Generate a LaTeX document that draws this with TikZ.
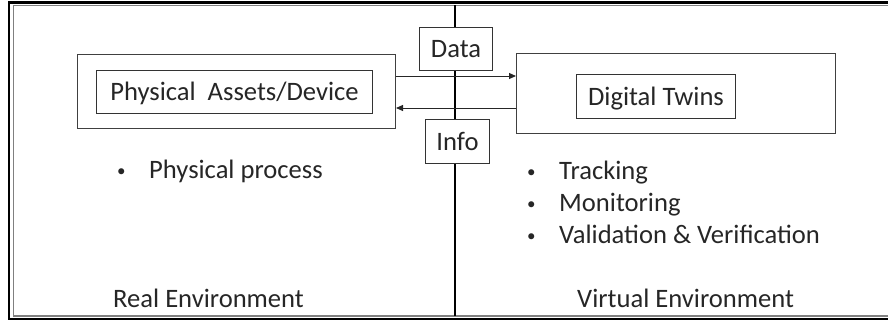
\documentclass[tikz,border=0pt]{standalone}
\usepackage{fontspec}
\setmainfont{Carlito}
\usetikzlibrary{arrows.meta}
\newcommand{\smbullet}{\makebox[34pt][l]{\hspace{2pt}{\fontsize{17}{20}\selectfont\raisebox{2pt}{•}}}}
\begin{document}
\begin{tikzpicture}[x=1pt,y=-1pt,
  every node/.style={font=\fontsize{26.6}{30}\selectfont, text=black!85},
  boxnode/.style={draw=black!80, line width=1pt, fill=white, inner sep=0pt, text height=17pt, text depth=0pt, anchor=north west},
  framebox/.style={draw=black!75, line width=1pt, inner sep=0pt, anchor=north west},
  txt/.style={inner sep=0pt, anchor=base west},
  arr/.style={draw=black!85, line width=1pt, -{Triangle[length=7pt,width=6pt]}}
]
\useasboundingbox (0,0) rectangle (888,322);
\begin{scope}
\clip (0,0) rectangle (888,322);
% double frame
\draw[black, line width=2.6pt] (9,2.2) rectangle (895,319);
\draw[black!50, line width=1.3pt] (13.5,5.6) rectangle (891,316);
\end{scope}
% centre divider
\coordinate (ctop) at (455,5);
\coordinate (cbot) at (455,316);
\draw[black, line width=1.1pt] (ctop) -- (cbot);
% outer boxes
\node[framebox, minimum width=318pt, minimum height=74pt] (oL) at (77,54) {};
\node[framebox, minimum width=319pt, minimum height=80pt] (oR) at (516,53) {};
% inner boxes
\node[boxnode, minimum width=276pt, minimum height=43pt] (phys) at (96,70) {Physical\ \ Assets/Device};
\node[boxnode, minimum width=159pt, minimum height=44pt] (dt) at (576,74) {Digital Twins};
\node[boxnode, minimum width=73pt, minimum height=43pt] (data) at (419,27) {Data};
\node[boxnode, minimum width=64pt, minimum height=44pt] (info) at (425,119) {Info};
% arrows
\coordinate (yd) at (0,76);
\coordinate (yi) at (0,108);
\draw[arr] (oL.east |- yd) -- (oR.west |- yd);
\draw[arr] (oR.west |- yi) -- (oL.east |- yi);
% bullet texts
\node[txt] (b1) at (115,178) {\smbullet Physical process};
\node[txt] (b2) at (525,179) {\smbullet Tracking};
\node[txt] (b3) at (525,211) {\smbullet Monitoring};
\node[txt] (b4) at (525,243) {\smbullet Validation \& Verification};
% environment labels
\node[txt] (re) at (113,307) {Real Environment};
\node[txt] (ve) at (577,307) {Virtual Environment};
\end{tikzpicture}
\end{document}
